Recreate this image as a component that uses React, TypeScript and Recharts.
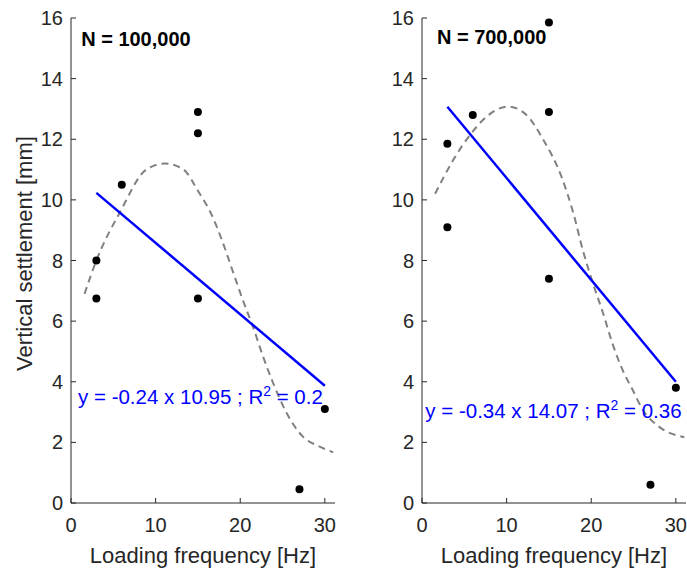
import React from 'react';
import { ComposedChart, Line, Scatter, XAxis, YAxis, ReferenceDot } from 'recharts';

const xTicks = [0, 10, 20, 30];
const yTicks = [0, 2, 4, 6, 8, 10, 12, 14, 16];

// measured settlement per loading frequency
const loadFreq = [3, 3, 6, 15, 15, 15, 27, 30];
const settle100k = [6.75, 8.0, 10.5, 12.9, 12.2, 6.75, 0.45, 3.1];
const settle700k = [11.85, 9.1, 12.8, 15.85, 12.9, 7.4, 0.6, 3.8];

// linear fit end points
const fitFreq = [3, 30];
const fit100k = [10.23, 3.87];
const fit700k = [13.07, 4.0];

// dashed trend curves
const curveFreq100k = [1.6, 3.0, 5.8, 8.9, 11.1, 13.3, 15.0, 16.8, 17.8, 19.2, 20.3, 21.5, 22.7, 23.9, 25.5, 27.4, 29.4, 31.0];
const curve100k = [6.9, 8.0, 9.6, 11.0, 11.2, 11.0, 10.3, 9.4, 8.7, 7.58, 6.7, 5.82, 4.83, 3.95, 2.96, 2.19, 1.86, 1.67];
const curveFreq700k = [1.55, 3.7, 5.7, 7.65, 10.2, 12.35, 14.3, 16.5, 17.85, 19.0, 20.2, 21.4, 22.5, 23.7, 24.9, 26.1, 28.0, 31.0];
const curve700k = [10.2, 11.32, 12.15, 12.75, 13.08, 12.8, 12.0, 10.75, 9.6, 8.35, 7.25, 6.26, 5.27, 4.39, 3.73, 3.07, 2.52, 2.17];

const FONT = '"Liberation Sans", Arial, Helvetica, sans-serif';
const AXIS = '#262626';

const toXY = (xs: number[], ys: number[]) => xs.map((x, i) => ({ x, y: ys[i] }));

interface PanelProps {
  points: { x: number; y: number }[];
  fit: { x: number; y: number }[];
  curve: { x: number; y: number }[];
  title: string;
  titlePos: [number, number];
  eqMain: string;
  eqR2: string;
  eqPos: [number, number];
  width: number;
  yAxisWidth: number;
  rightMargin: number;
  showYLabel: boolean;
}

const Panel: React.FC<PanelProps> = ({
  points, fit, curve, title, titlePos, eqMain, eqR2, eqPos, width, yAxisWidth, rightMargin, showYLabel,
}) => {
  const yLabel = (props: any) => {
    const vb = props.viewBox || { x: 0, y: 18, width: yAxisWidth, height: 485 };
    const cx = 32;
    const cy = vb.y + vb.height / 2 - 7;
    return (
      <text x={cx} y={cy} transform={`rotate(-90 ${cx} ${cy})`} textAnchor="middle"
        fill={AXIS} fontSize={22} fontFamily={FONT}>
        Vertical settlement [mm]
      </text>
    );
  };

  return (
    <ComposedChart width={width} height={569} margin={{ top: 18, right: rightMargin, bottom: 0, left: 0 }}>
      <XAxis
        type="number"
        dataKey="x"
        domain={[0, 31.2]}
        ticks={xTicks}
        height={66}
        stroke={AXIS}
        tickSize={-5}
        tickMargin={20}
        tick={{ fill: AXIS, fontSize: 20, fontFamily: FONT }}
        label={{ value: 'Loading frequency [Hz]', position: 'insideBottom', offset: 6, fill: AXIS, fontSize: 22, fontFamily: FONT }}
      />
      <YAxis
        type="number"
        dataKey="y"
        domain={[0, 16]}
        ticks={yTicks}
        width={yAxisWidth}
        stroke={AXIS}
        tickSize={-5}
        tickMargin={13}
        tick={{ fill: AXIS, fontSize: 20, fontFamily: FONT }}
        label={showYLabel ? yLabel : undefined}
      />
      <Line data={curve} dataKey="y" type="monotone" stroke="#808080" strokeWidth={2}
        strokeDasharray="7 5" dot={false} activeDot={false} isAnimationActive={false} />
      <Line data={fit} dataKey="y" type="linear" stroke="#0000ff" strokeWidth={2.5}
        dot={false} activeDot={false} isAnimationActive={false} />
      <Scatter data={points} fill="#000000" isAnimationActive={false}
        shape={(p: any) => <circle cx={p.cx} cy={p.cy} r={4} fill="#000000" />} />
      <ReferenceDot x={titlePos[0]} y={titlePos[1]} r={0}
        shape={(p: any) => (
          <text x={p.cx} y={p.cy} fill="#000000" fontSize={20} fontWeight="bold" fontFamily={FONT}>{title}</text>
        )} />
      <ReferenceDot x={eqPos[0]} y={eqPos[1]} r={0}
        shape={(p: any) => (
          <text x={p.cx} y={p.cy} fill="#0000ff" fontSize={20.5} fontFamily={FONT}>
            {eqMain}
            <tspan dy={-8} fontSize={14}>2</tspan>
            <tspan dy={8}>{eqR2}</tspan>
          </text>
        )} />
    </ComposedChart>
  );
};

export default function App() {
  return (
    <div style={{ position: 'absolute', left: 0, top: 0, width: 687, height: 569, background: '#ffffff' }}>
      <div style={{ position: 'absolute', left: 0, top: 0 }}>
        <Panel
          points={toXY(loadFreq, settle100k)}
          fit={toXY(fitFreq, fit100k)}
          curve={toXY(curveFreq100k, curve100k)}
          title="N = 100,000"
          titlePos={[1.2, 15.08]}
          eqMain="y = -0.24 x 10.95 ; R"
          eqR2=" = 0.2"
          eqPos={[0.83, 3.27]}
          width={345}
          yAxisWidth={71}
          rightMargin={10}
          showYLabel
        />
      </div>
      <div style={{ position: 'absolute', left: 350, top: 0 }}>
        <Panel
          points={toXY(loadFreq, settle700k)}
          fit={toXY(fitFreq, fit700k)}
          curve={toXY(curveFreq700k, curve700k)}
          title="N = 700,000"
          titlePos={[1.76, 15.15]}
          eqMain="y = -0.34 x 14.07 ; R"
          eqR2=" = 0.36"
          eqPos={[0.39, 2.8]}
          width={337}
          yAxisWidth={72}
          rightMargin={1}
          showYLabel={false}
        />
      </div>
    </div>
  );
}
